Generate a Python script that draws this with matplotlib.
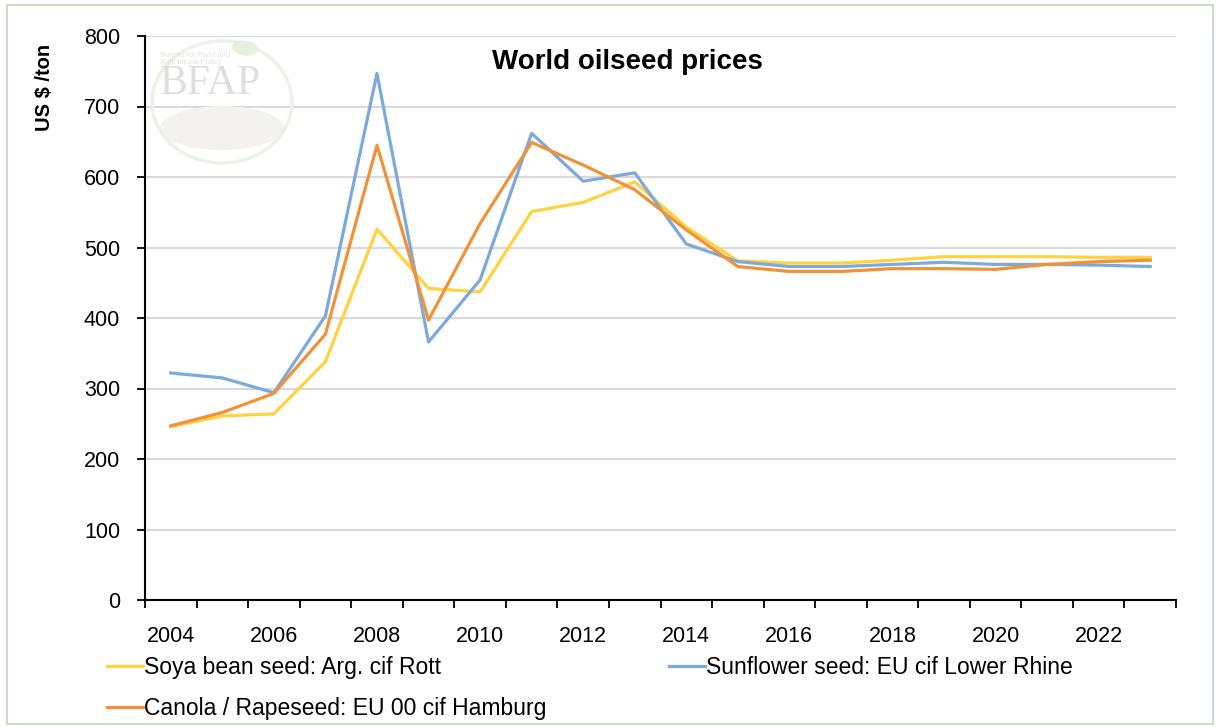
import matplotlib
matplotlib.use("Agg")
import matplotlib.pyplot as plt
from matplotlib.patches import Rectangle, Ellipse
import numpy as np

plt.rcParams['font.family'] = ['Liberation Sans', 'DejaVu Sans']

years = list(range(2004, 2024))
tick_years = [str(y) for y in range(2004, 2024, 2)]

soya = [246, 261, 264, 338, 526, 442, 437, 551, 564, 593, 529, 481, 478, 478, 482, 487, 487, 487, 486, 486]
sunflower = [322, 315, 294, 403, 747, 366, 454, 662, 594, 606, 505, 480, 473, 473, 476, 479, 476, 476, 475, 473]
canola = [247, 266, 293, 377, 645, 397, 534, 649, 617, 582, 525, 473, 466, 466, 470, 470, 469, 476, 480, 482]

names = ["Soya bean seed: Arg. cif Rott",
         "Sunflower seed: EU cif Lower Rhine",
         "Canola / Rapeseed: EU 00 cif Hamburg"]
colors = ["#FFD23F", "#7DA9DB", "#EF923A"]

W, H = 1218, 727
fig = plt.figure(figsize=(W/100, H/100), dpi=100)
ax = fig.add_axes([145/W, 1-600/H, (1176-145)/W, (600-36)/H])

def px(x, y):
    # pixel position (from top-left) -> figure fraction
    return (x/W, 1-y/H)

# faint BFAP watermark (behind the plot)
fig.patches.append(Ellipse(px(222, 128), 124/W, 44/H, transform=fig.transFigure,
                           fc='#F4F2EF', ec='none', zorder=0))
fig.patches.append(Ellipse(px(222, 102), 140/W, 122/H, transform=fig.transFigure,
                           fill=False, ec='#EBF2E6', lw=2.5, zorder=0))
fig.patches.append(Ellipse(px(245, 48), 28/W, 14/H, angle=-40, transform=fig.transFigure,
                           fc='#E6F0DF', ec='none', zorder=0))
ax.patch.set_alpha(0)
fig.text(*px(160, 84), "BFAP", fontsize=30, family='Liberation Serif',
         color='#DEDEDE', ha='left', va='center', zorder=1)
fig.text(*px(160, 59), "Bureau for Food and\nAgricultural Policy", fontsize=5.5,
         color='#E2E2E2', ha='left', va='center', zorder=1, linespacing=1.1)

x = np.arange(len(years))
l1, = ax.plot(x, soya, color=colors[0], lw=2.3, label=names[0], zorder=3)
l2, = ax.plot(x, sunflower, color=colors[1], lw=2.3, label=names[1], zorder=3)
l3, = ax.plot(x, canola, color=colors[2], lw=2.3, label=names[2], zorder=3)

ax.set_ylim(0, 800)
ax.set_xlim(-0.5, len(years)-0.5)
ax.set_yticks(np.arange(0, 801, 100))
ax.set_xticks(np.arange(-0.5, len(years), 1))
ax.set_xticklabels([])
ax.set_xticks(np.arange(0, len(years), 2), minor=True)
ax.set_xticklabels(tick_years, minor=True)
ax.tick_params(axis='x', which='minor', length=0, pad=19, labelsize=15.5)
ax.tick_params(axis='x', which='major', length=6, width=1.3, direction='out')
ax.tick_params(axis='y', length=6, width=1.3, direction='out', pad=12, labelsize=15.5)

ax.grid(axis='y', color='#D9D9D9', lw=1.5, zorder=0)
ax.set_axisbelow(True)
for s in ['top', 'right']:
    ax.spines[s].set_visible(False)
for s in ['left', 'bottom']:
    ax.spines[s].set_linewidth(1.5)
    ax.spines[s].set_zorder(4)

fig.text(*px(627, 62), "World oilseed prices", ha='center', va='center',
         fontsize=20, fontweight='bold')
fig.text(*px(45, 87), "US $ /ton", rotation=90, ha='center', va='center',
         fontsize=14.5, fontweight='bold')

leg_kw = dict(frameon=False, fontsize=16.5, handlelength=1.55, handletextpad=0.05,
              labelspacing=0.78, borderpad=0, borderaxespad=0)
fig.legend([l1, l3], [names[0], names[2]], loc='upper left',
           bbox_to_anchor=px(107, 656), **leg_kw)
fig.legend([l2], [names[1]], loc='upper left',
           bbox_to_anchor=px(669, 656), **leg_kw)

fig.patches.append(Rectangle(px(7, 724), 1206/W, 719/H, transform=fig.transFigure,
                             fill=False, ec='#C8E0C2', lw=1.5))

fig.savefig("out.png", dpi=100)
